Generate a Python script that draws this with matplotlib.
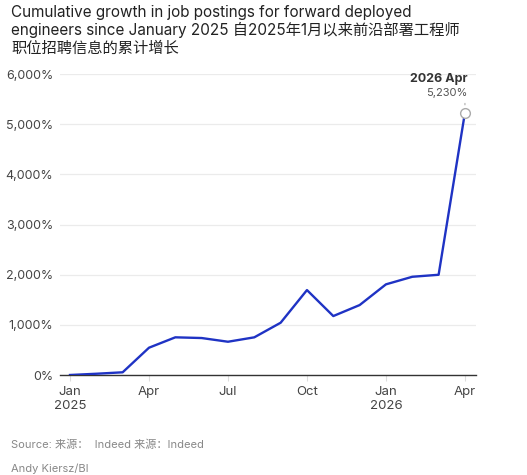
import matplotlib
matplotlib.use("Agg")
import matplotlib.pyplot as plt

plt.rcParams['font.family'] = ['Inter', 'Noto Sans CJK SC', 'DejaVu Sans']

months = ["Jan 2025", "Feb 2025", "Mar 2025", "Apr 2025", "May 2025", "Jun 2025",
          "Jul 2025", "Aug 2025", "Sep 2025", "Oct 2025", "Nov 2025", "Dec 2025",
          "Jan 2026", "Feb 2026", "Mar 2026", "Apr 2026"]
growth = [0, 25, 54, 544, 751, 737, 663, 751, 1042, 1693, 1175, 1394, 1807, 1958, 1998, 5230]
tick_pos = [0, 3, 6, 9, 12, 15]
tick_labels = ["Jan\n2025", "Apr", "Jul", "Oct", "Jan\n2026", "Apr"]
y_ticks = [0, 1000, 2000, 3000, 4000, 5000, 6000]
y_labels = ["0%", "1,000%", "2,000%", "3,000%", "4,000%", "5,000%", "6,000%"]

W, H = 527, 475
fig = plt.figure(figsize=(W / 100, H / 100), dpi=100)
ax = fig.add_axes([60 / W, 1 - 375 / H, (476 - 60) / W, (375 - 74) / H])

x = list(range(len(growth)))
ax.plot(x, growth, color="#1f33c4", lw=1.7, solid_joinstyle="round", zorder=3)
ax.plot([x[-1]], [growth[-1]], marker="o", ms=7, mfc="white", mec="#aaaaaa", mew=1.0, zorder=4)

ax.set_xlim(-0.38, 15.42)
ax.set_ylim(0, 6000)
ax.set_yticks(y_ticks)
ax.set_yticklabels(y_labels)
ax.set_xticks(tick_pos)
ax.set_xticklabels(tick_labels, linespacing=1.25)
ax.grid(axis="y", color="#ebebeb", lw=0.9, zorder=0)
for s in ["top", "right", "left"]:
    ax.spines[s].set_visible(False)
ax.spines["bottom"].set_color("#333333")
ax.spines["bottom"].set_linewidth(1.0)
ax.tick_params(axis="y", length=0, pad=5, labelsize=9, labelcolor="#444444")
ax.tick_params(axis="x", length=4, color="#dddddd", pad=4, labelsize=9.5, labelcolor="#444444")

# annotation
ax.annotate("", xy=(x[-1], growth[-1] + 100), xytext=(x[-1], growth[-1] + 240),
            arrowprops=dict(arrowstyle="-", color="#aaaaaa", lw=0.8))
ax.text(x[-1] + 0.1, growth[-1] + 620, "2026 Apr", ha="right", va="baseline",
        fontsize=9, fontweight="bold", color="#333333")
ax.text(x[-1] + 0.1, growth[-1] + 340, "5,230%", ha="right", va="baseline",
        fontsize=8, color="#555555")

fig.text(11 / W, 1 - 5 / H,
         "Cumulative growth in job postings for forward deployed\n"
         "engineers since January 2025 自2025年1月以来前沿部署工程师\n"
         "职位招聘信息的累计增长",
         ha="left", va="top", fontsize=11, color="#222222", linespacing=1.18)
fig.text(11 / W, 1 - 448 / H, "Source: 来源：  Indeed 来源：Indeed", ha="left", va="baseline",
         fontsize=8, color="#888888")
fig.text(11 / W, 1 - 472 / H, "Andy Kiersz/BI", ha="left", va="baseline",
         fontsize=8, color="#888888")

fig.savefig("out.png", dpi=100, facecolor="white")
